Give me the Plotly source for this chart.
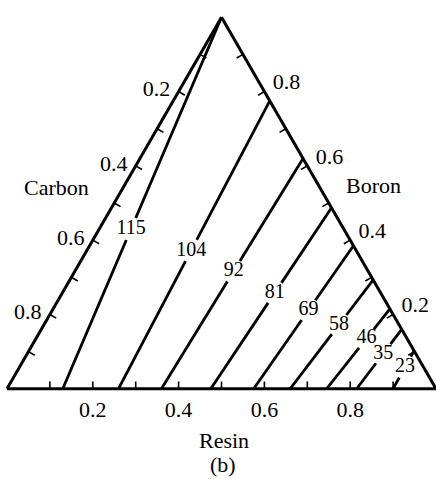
import plotly.graph_objects as go

# Contour levels and where each straight contour meets the triangle edges
levels = [115, 104, 92, 81, 69, 58, 46, 35, 23]
# resin fraction where the contour leaves the Resin (bottom) edge, boron = 0
resin_at_base = [0.13, 0.26, 0.36, 0.475, 0.575, 0.66, 0.745, 0.815, 0.90]
# boron fraction where the contour meets the Boron (right) edge, carbon = 0
boron_at_side = [1.0, 0.775, 0.62, 0.487, 0.385, 0.293, 0.215, 0.16, 0.102]
# position of each level label along its line (0 = base, 1 = side)
label_at = [0.43, 0.48, 0.51, 0.53, 0.55, 0.59, 0.63, 0.59, 0.57]

tick_vals = [0.1, 0.2, 0.3, 0.4, 0.5, 0.6, 0.7, 0.8, 0.9]
labelled = [0.2, 0.4, 0.6, 0.8]

SERIF = "Liberation Serif"
SQ3 = 3 ** 0.5 / 2
TICK_LEN = 0.017   # tick length as a fraction of the triangle side


def tick_text(v):
    # every edge reads the complementary component along it
    return f"{1 - v:.1f}" if round(v, 1) in labelled else ""


def axis_style(pad):
    style = dict(
        title=dict(text=""),
        min=0,
        tickmode="array",
        tickvals=tick_vals,
        ticktext=[tick_text(v) for v in tick_vals],
        showline=True,
        linecolor="black",
        linewidth=3,
        showgrid=False,
        tickfont=dict(family=SERIF, size=22, color="black"),
    )
    if pad:
        # invisible outside ticks only push the labels away from the edge
        style.update(ticks="outside", ticklen=pad, tickcolor="rgba(0,0,0,0)")
    else:
        style.update(ticks="")
    return style


def xy(a, b, c):
    return c + a / 2, a * SQ3


def abc(x, y):
    a = y / SQ3
    c = x - a / 2
    return a, 1 - a - c, c


fig = go.Figure()

# short tick marks, perpendicular to each edge and pointing inwards
ta, tb, tc = [], [], []
for v in tick_vals:
    starts = [
        ((v, 1 - v, 0.0), (SQ3, -0.5)),        # left edge (boron axis)
        ((0.0, v, 1 - v), (0.0, 1.0)),         # base (carbon axis)
        ((1 - v, 0.0, v), (-SQ3, -0.5)),       # right edge (resin axis)
    ]
    for p, (nx, ny) in starts:
        x, y = xy(*p)
        q = abc(x + TICK_LEN * nx, y + TICK_LEN * ny)
        ta += [p[0], q[0], None]
        tb += [p[1], q[1], None]
        tc += [p[2], q[2], None]
fig.add_trace(go.Scatterternary(
    a=ta, b=tb, c=tc, mode="lines",
    line=dict(color="black", width=1.6),
    hoverinfo="skip", showlegend=False, connectgaps=False,
))

half_gap = 0.028
lab_a, lab_b, lab_c, lab_t = [], [], [], []
for lev, r0, a1, t in zip(levels, resin_at_base, boron_at_side, label_at):
    p0 = (0.0, 1 - r0, r0)          # (boron, carbon, resin) on the base
    p1 = (a1, 0.0, 1 - a1)          # on the boron side
    x0, y0 = xy(*p0)
    x1, y1 = xy(*p1)
    length = ((x1 - x0) ** 2 + (y1 - y0) ** 2) ** 0.5
    d = half_gap / length

    def at(s):
        return tuple(p0[k] + s * (p1[k] - p0[k]) for k in range(3))

    for s_from, s_to in ((0.0, t - d), (t + d, 1.0)):
        q0, q1 = at(s_from), at(s_to)
        fig.add_trace(go.Scatterternary(
            a=[q0[0], q1[0]], b=[q0[1], q1[1]], c=[q0[2], q1[2]],
            mode="lines", line=dict(color="black", width=2.8),
            hoverinfo="skip", showlegend=False,
        ))
    qa = at(t)
    lab_a.append(qa[0]); lab_b.append(qa[1]); lab_c.append(qa[2])
    lab_t.append(str(lev))

fig.add_trace(go.Scatterternary(
    a=lab_a, b=lab_b, c=lab_c, text=lab_t,
    mode="text", textposition="middle center",
    textfont=dict(family=SERIF, size=20, color="black"),
    hoverinfo="skip", showlegend=False,
))


def note(text, px, py):
    # place a caption by its pixel centre inside the figure
    return dict(text=text, x=(px - 7) / 429, y=(389 - py) / 372,
                xref="paper", yref="paper", showarrow=False,
                xanchor="center", yanchor="middle",
                font=dict(family=SERIF, size=22, color="black"))


fig.update_layout(
    width=436, height=479,
    margin=dict(l=7, r=0, t=17, b=90),
    paper_bgcolor="white",
    ternary=dict(
        sum=1,
        bgcolor="white",
        domain=dict(x=[0, 1], y=[0, 1]),
        aaxis=axis_style(4),
        baxis=axis_style(0),
        caxis=axis_style(8),
    ),
    annotations=[
        note("Carbon", 56, 187),
        note("Boron", 373, 185),
        note("Resin", 224, 440),
        note("(b)", 223, 464),
    ],
)

fig.write_html("out.html")
